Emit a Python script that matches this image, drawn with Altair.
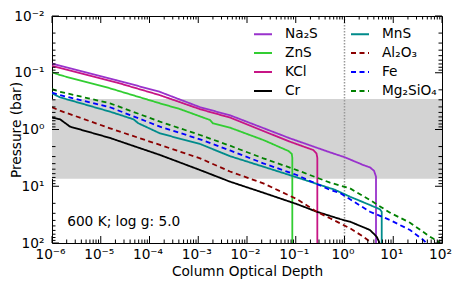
import altair as alt
import pandas as pd

# ---- data ----
SPECIES = ["Na₂S", "ZnS", "KCl", "Cr", "MnS", "Al₂O₃", "Fe", "Mg₂SiO₄"]
COLORS = {"Na₂S": "#9932cc", "ZnS": "#32cd32", "KCl": "#c71585", "Cr": "#000000",
          "MnS": "#008b8b", "Al₂O₃": "#8b0000", "Fe": "#0000ff", "Mg₂SiO₄": "#008000"}
DASHED = {"Na₂S": False, "ZnS": False, "KCl": False, "Cr": False,
          "MnS": False, "Al₂O₃": True, "Fe": True, "Mg₂SiO₄": True}

NA2S_TAU = [1e-6, 2.1e-5, 1.6e-4, 1.1e-3, 4.5e-3, 0.076, 0.50, 1.02, 2.43, 3.33, 4.03, 4.43, 4.43]
NA2S_P = [0.069, 0.135, 0.216, 0.406, 0.562, 1.43, 2.52, 3.09, 4.23, 4.65, 5.32, 6.78, 100]

ZNS_TAU = [1e-6, 1.46e-6, 1.55e-5, 1.64e-4, 4.2e-4, 1.74e-3, 2.0e-3, 4.5e-3, 0.0216, 0.0708, 0.083, 0.085, 0.085]
ZNS_P = [0.098, 0.11, 0.188, 0.346, 0.436, 0.68, 0.78, 0.93, 1.53, 2.39, 2.69, 3.16, 100]

KCL_TAU = [1e-6, 2.1e-5, 1.6e-4, 1.1e-3, 4.5e-3, 0.076, 0.229, 0.266, 0.277, 0.277]
KCL_P = [0.076, 0.148, 0.247, 0.44, 0.617, 1.64, 2.30, 2.63, 3.16, 100]

CR_TAU = [1e-6, 1.46e-6, 2.34e-6, 1.55e-5, 1.64e-4, 1.09e-3, 4.48e-3, 0.0216, 0.105, 0.269, 0.81, 1.3, 3.33, 4.57, 5.25]
CR_P = [0.617, 0.66, 0.89, 1.41, 2.81, 5.18, 8.3, 13.0, 20.6, 28.1, 37.8, 42.1, 59.0, 77.4, 100]

MNS_TAU = [1e-6, 1.46e-6, 1.55e-5, 4.68e-5, 5.9e-5, 1.64e-4, 1.09e-3, 4.48e-3, 0.0216, 0.105, 0.63, 1.3, 3.33, 5.35, 5.8, 5.8]
MNS_P = [0.231, 0.271, 0.485, 0.66, 0.776, 1.17, 1.80, 2.95, 4.52, 6.97, 11.5, 15.3, 21.4, 25.5, 28.2, 100]

AL2O3_TAU = [1e-6, 1.46e-6, 1.55e-5, 1.64e-4, 1.09e-3, 4.48e-3, 0.0216, 0.105, 0.269, 0.505, 1.3, 2.43, 3.6]
AL2O3_P = [0.407, 0.466, 0.953, 1.87, 3.22, 5.5, 8.9, 16.8, 28.1, 36.7, 55.1, 77.4, 100]

FE_TAU = [1e-6, 1.46e-6, 1.55e-5, 1.64e-4, 1.09e-3, 4.48e-3, 0.0216, 0.105, 0.505, 0.81, 1.3, 3.33, 8.57, 22.1, 41.4, 47.9]
FE_P = [0.224, 0.247, 0.406, 0.891, 1.49, 2.34, 3.94, 6.34, 11.6, 13.2, 17.0, 28.1, 39.4, 59.0, 88.5, 100]

MG2SIO4_TAU = [1e-6, 1.46e-6, 1.55e-5, 1.64e-4, 1.09e-3, 4.48e-3, 0.0216, 0.105, 0.505, 1.3, 3.33, 8.57, 22.1, 56.8, 84.1, 89.1]
MG2SIO4_P = [0.195, 0.216, 0.346, 0.728, 1.25, 1.93, 3.22, 5.18, 8.65, 10.9, 17.5, 29.2, 43.9, 77.4, 94.8, 100]

SERIES = {"Na₂S": (NA2S_TAU, NA2S_P), "ZnS": (ZNS_TAU, ZNS_P), "KCl": (KCL_TAU, KCL_P),
          "Cr": (CR_TAU, CR_P), "MnS": (MNS_TAU, MNS_P), "Al₂O₃": (AL2O3_TAU, AL2O3_P),
          "Fe": (FE_TAU, FE_P), "Mg₂SiO₄": (MG2SIO4_TAU, MG2SIO4_P)}

BAND_P = [0.29, 7.36]
VLINE_TAU = 1.0
ANNOT = "600 K; log g: 5.0"
ANNOT_TAU, ANNOT_P = 2.05e-6, 42

X_TICKS = [1e-6, 1e-5, 1e-4, 1e-3, 1e-2, 1e-1, 1, 10, 100]
Y_TICKS = [1e-2, 1e-1, 1, 10, 100]
X_MINOR = [k * d for d in X_TICKS[:-1] for k in range(2, 10)]
Y_MINOR = [k * d for d in Y_TICKS[:-1] for k in range(2, 10)]

# ---- build tables ----
rows = []
for sp in SPECIES:
    taus, ps = SERIES[sp]
    for i, (t, p) in enumerate(zip(taus, ps)):
        rows.append({"species": sp, "tau": t, "P": p, "i": i})
df = pd.DataFrame(rows)

W, H = 390, 227
FONT = "DejaVu Sans"
FS = 13.7

xscale = alt.Scale(type="log", domain=[1e-6, 100], nice=False)
yscale = alt.Scale(type="log", domain=[0.01, 100], nice=False, reverse=True)

x_expr = ("datum.value < 5e-6 ? '10⁻⁶' : datum.value < 5e-5 ? '10⁻⁵' : datum.value < 5e-4 ? '10⁻⁴' : "
          "datum.value < 5e-3 ? '10⁻³' : datum.value < 5e-2 ? '10⁻²' : datum.value < 0.5 ? '10⁻¹' : "
          "datum.value < 5 ? '10⁰' : datum.value < 50 ? '10¹' : '10²'")
y_expr = ("datum.value < 0.05 ? '10⁻²' : datum.value < 0.5 ? '10⁻¹' : datum.value < 5 ? '10⁰' : "
          "datum.value < 50 ? '10¹' : '10²'")

xaxis = alt.Axis(values=X_TICKS, labelExpr=x_expr, title="Column Optical Depth",
                 domain=False, ticks=False, grid=False, labelFlush=False,
                 labelFontSize=FS, labelFont=FONT, labelPadding=4, labelBaseline="top",
                 labelOffset=-2,
                 titleFontSize=FS, titleFont=FONT, titleFontWeight="normal",
                 titleX=W / 2, titleY=28, titleBaseline="middle",
                 labelColor="black", titleColor="black")
yaxis = alt.Axis(values=Y_TICKS, labelExpr=y_expr, title="Pressure (bar)",
                 domain=False, ticks=False, grid=False, labelFlush=False,
                 labelFontSize=FS, labelFont=FONT, labelPadding=8,
                 titleFontSize=FS, titleFont=FONT, titleFontWeight="normal",
                 titleX=-36, titleY=H / 2, titleAngle=-90,
                 titleBaseline="middle", titleAlign="center",
                 labelColor="black", titleColor="black")

def X(field):
    return alt.X(field, scale=xscale, axis=xaxis)

def Y(field):
    return alt.Y(field, scale=yscale, axis=yaxis)

legend = alt.Legend(orient="none", legendX=201, legendY=8, columns=2, title=None,
                    symbolType="stroke", symbolSize=324, symbolStrokeWidth=2,
                    labelFontSize=FS, labelFont=FONT, labelOffset=12, rowPadding=2,
                    columnPadding=29, padding=0, labelColor="black")

lines = alt.Chart(df).mark_line(strokeWidth=1.8, clip=True).encode(
    x=X("tau:Q"),
    y=Y("P:Q"),
    color=alt.Color("species:N", scale=alt.Scale(domain=SPECIES,
                    range=[COLORS[s] for s in SPECIES]), legend=legend),
    strokeDash=alt.StrokeDash("species:N", scale=alt.Scale(domain=SPECIES,
                    range=[[5, 3.5] if DASHED[s] else [1, 0] for s in SPECIES]),
                    legend=legend),
    order=alt.Order("i:Q"),
)

band_df = pd.DataFrame({"lo": [BAND_P[0]], "hi": [BAND_P[1]]})
band = alt.Chart(band_df).mark_rect(color="#d3d3d3").encode(
    y=Y("lo:Q"), y2="hi:Q",
    x=alt.value(0), x2=alt.value(W))

vline = alt.Chart(pd.DataFrame({"tau": [VLINE_TAU]})).mark_rule(
    color="#999999", strokeDash=[1.5, 1.5], strokeWidth=1.5).encode(x=X("tau:Q"))

text = alt.Chart(pd.DataFrame({"tau": [ANNOT_TAU], "P": [ANNOT_P], "t": [ANNOT]})).mark_text(
    align="left", baseline="middle", fontSize=FS, font=FONT, color="black").encode(
    x=X("tau:Q"), y=Y("P:Q"), text="t:N")

def xticks(vals, length):
    d = pd.DataFrame({"tau": vals})
    base = alt.Chart(d).mark_rule(color="black", strokeWidth=1)
    b = base.encode(x=X("tau:Q"), y=alt.value(H), y2=alt.value(H - length))
    t = base.encode(x=X("tau:Q"), y=alt.value(0), y2=alt.value(length))
    return [b, t]

def yticks(vals, length):
    d = pd.DataFrame({"P": vals})
    base = alt.Chart(d).mark_rule(color="black", strokeWidth=1)
    l = base.encode(y=Y("P:Q"), x=alt.value(0), x2=alt.value(length))
    r = base.encode(y=Y("P:Q"), x=alt.value(W), x2=alt.value(W - length))
    return [l, r]

ticks = xticks(X_TICKS, 7) + xticks(X_MINOR, 3.5) + yticks(Y_TICKS, 7) + yticks(Y_MINOR, 3.5)

chart = alt.layer(band, vline, lines, text, *ticks).properties(
    width=W, height=H,
    padding={"left": 44, "top": 8, "right": 11, "bottom": 36},
    autosize=alt.AutoSizeParams(type="none"),
).configure(font=FONT).configure_view(stroke="black", strokeWidth=1)

chart.save("out.html", embed_options={"renderer": "svg", "actions": False})
